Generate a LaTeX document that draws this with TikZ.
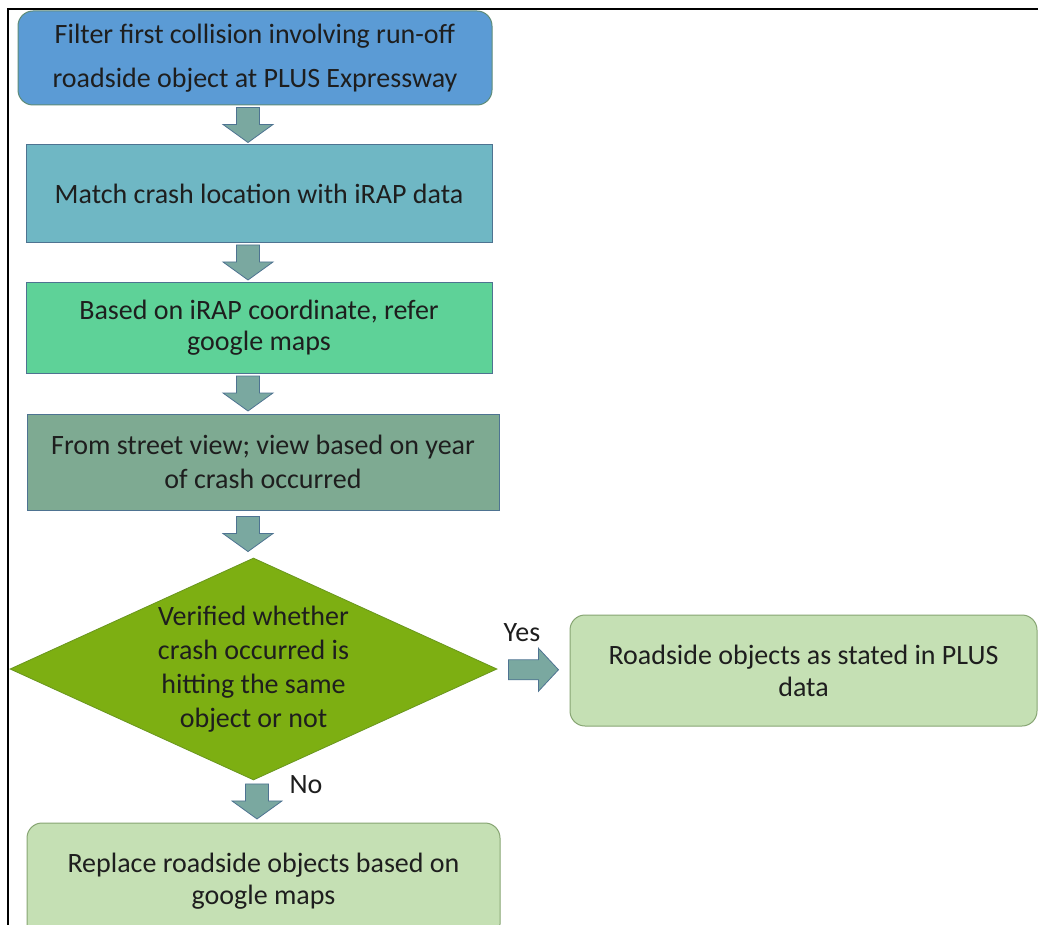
\documentclass[tikz,border=0pt]{standalone}
\usepackage{fontspec}
\setmainfont{Carlito}
\usetikzlibrary{calc,shapes.geometric}
\definecolor{cBlue}{RGB}{91,155,213}
\definecolor{cBlueB}{RGB}{95,140,120}
\definecolor{cTeal}{RGB}{111,183,196}
\definecolor{cMint}{RGB}{94,210,152}
\definecolor{cSage}{RGB}{126,170,146}
\definecolor{cOlive}{RGB}{125,175,18}
\definecolor{cOliveB}{RGB}{105,150,30}
\definecolor{cPale}{RGB}{197,224,180}
\definecolor{cPaleB}{RGB}{135,165,115}
\definecolor{cEdge}{RGB}{78,115,145}
\definecolor{cArrow}{RGB}{122,168,160}
\definecolor{cText}{RGB}{30,30,30}
\tikzset{
  box/.style={draw=cEdge, line width=1pt, rectangle, inner sep=0pt, align=center,
    text=cText, font=\fontsize{28}{34}\selectfont},
  rbox/.style={box, rounded corners=15pt, draw=cPaleB, fill=cPale},
  blockarrow/.style={draw=cEdge, fill=cArrow, line width=0.8pt, line join=miter},
  lbl/.style={text=cText, font=\fontsize{28}{34}\selectfont, inner sep=0pt},
}
\newcommand{\blockdown}[3]{%
  \coordinate (m) at ($(#3 |- #1.south)!0.5!(#3 |- #2.north)$);
  \draw[blockarrow] ($(m)+(-11.5,-17.5)$) -- ($(m)+(11.5,-17.5)$) -- ($(m)+(11.5,-0.5)$)
    -- ($(m)+(25,-0.5)$) -- ($(m)+(0,17.5)$) -- ($(m)+(-25,-0.5)$) -- ($(m)+(-11.5,-0.5)$) -- cycle;}
\begin{document}
\begin{tikzpicture}[x=1pt,y=-1pt]
\useasboundingbox (0,0) rectangle (1038,925);
\fill[white] (0,0) rectangle (1038,925);
\clip (0,0) rectangle (1038,925);
\draw[line width=1.6pt, black] (8,925) -- (8,9) -- (1038,9);
\coordinate (colA) at (248,0);
\coordinate (colB) at (257,0);

\node[box, rounded corners=15pt, draw=cBlueB, fill=cBlue, minimum width=474pt, minimum height=94pt,
  font=\fontsize{28}{44}\selectfont] (b1) at (255,58)
  {Filter first collision involving run-off\\roadside object at PLUS Expressway};
\node[box, fill=cTeal, minimum width=466pt, minimum height=98pt] (b2) at (259,194)
  {Match crash location with iRAP data};
\node[box, fill=cMint, minimum width=466pt, minimum height=91pt,
  font=\fontsize{28}{31}\selectfont] (b3) at (259,327.5)
  {Based on iRAP coordinate, refer\\google maps};
\node[box, fill=cSage, minimum width=472pt, minimum height=96pt] (b4) at (263,462)
  {From street view; view based on year\\of crash occurred};
\node[diamond, draw=cOliveB, fill=cOlive, line width=0.8pt, inner sep=0pt,
  minimum width=487pt, minimum height=222pt] (dia) at (253.5,669) {};
\node[lbl, align=center] (diat) at (dia.center)
  {Verified whether\\crash occurred is\\hitting the same\\object or not};
\node[rbox, minimum width=467pt, minimum height=111pt, font=\fontsize{28}{32}\selectfont] (b5) at (803.5,670.5)
  {Roadside objects as stated in PLUS\\data};
\node[rbox, minimum width=473pt, minimum height=116pt, font=\fontsize{28}{32}\selectfont] (b6) at (263.5,881)
  {Replace roadside objects based on\\google maps};

\blockdown{b1}{b2}{colA}
\blockdown{b2}{b3}{colA}
\blockdown{b3}{b4}{colA}
\blockdown{b4}{dia}{colA}
\blockdown{dia}{b6}{colB}

\coordinate (ym) at ($(dia.east)!0.5!(b5.west)$);
\draw[blockarrow] ($(ym)+(-25,-10)$) -- ($(ym)+(5,-10)$) -- ($(ym)+(5,-21.5)$) -- ($(ym)+(25,0)$)
  -- ($(ym)+(5,21.5)$) -- ($(ym)+(5,10)$) -- ($(ym)+(-25,10)$) -- cycle;

\node[lbl] (yes) at (522,633) {Yes};
\node[lbl] (no) at (306,785) {No};
\end{tikzpicture}
\end{document}
